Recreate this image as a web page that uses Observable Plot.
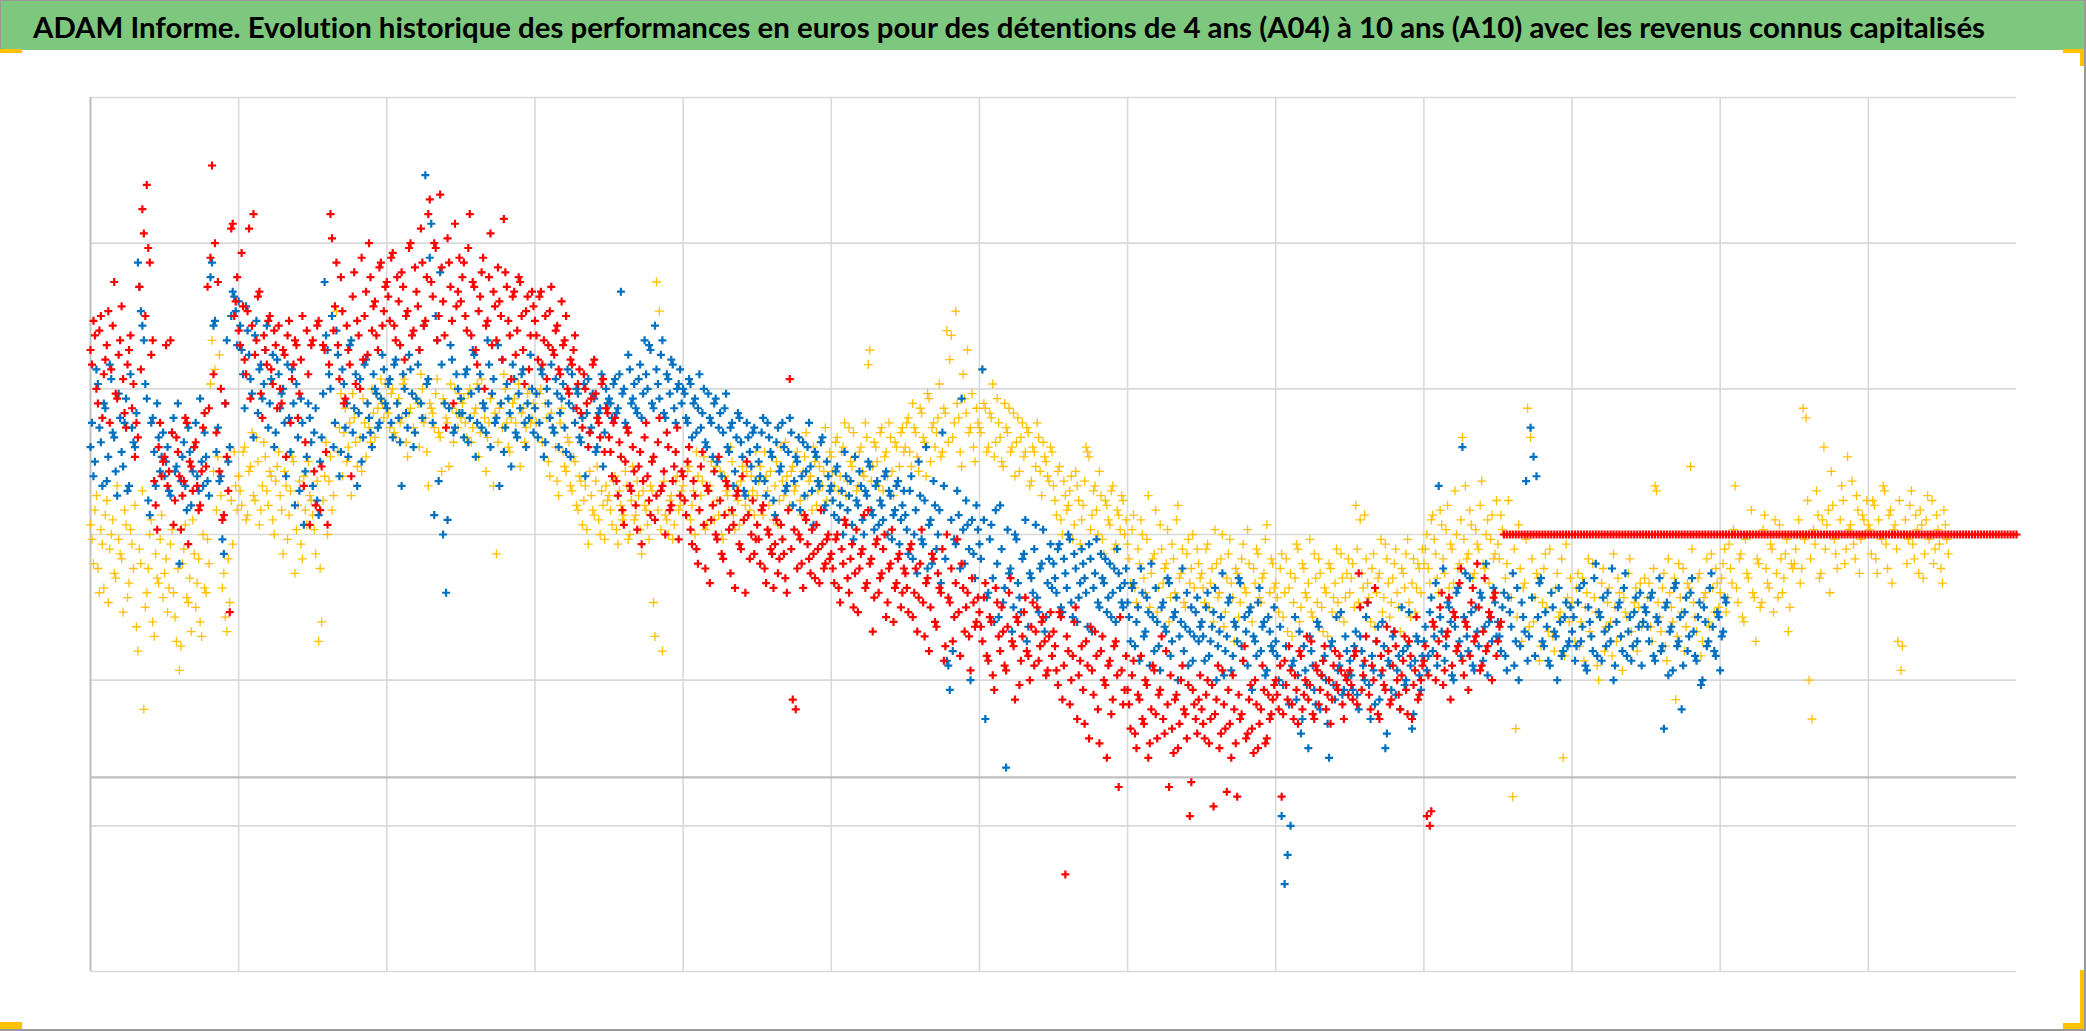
<!DOCTYPE html>
<html>
<head>
<meta charset="utf-8">
<script src="https://cdn.jsdelivr.net/npm/d3@7"></script>
<script src="https://cdn.jsdelivr.net/npm/@observablehq/plot@0.6"></script>
<style>
html, body { margin: 0; padding: 0; background: #fff; }
#page { position: relative; width: 2086px; height: 1031px; overflow: hidden; background: #fff; }
#banner { position: absolute; left: 0; top: 0; width: 2086px; height: 50px; background: #7DC77E; }
#chart { position: absolute; left: 0; top: 50px; }
.handle { position: absolute; background: #FFC000; }
.edge { position: absolute; background: #9a9a9a; }
</style>
</head>
<body>
<div id="page">
  <div id="banner">
    <svg width="2086" height="50">
      <text id="title" x="33" y="37.5" textLength="1952" lengthAdjust="spacingAndGlyphs"
        style="font-variant-ligatures: none;"
        font-family="Lato, 'Open Sans', sans-serif" font-weight="700" font-size="29" fill="#000">ADAM Informe. Evolution historique des performances en euros pour des détentions de 4 ans (A04) à 10 ans (A10) avec les revenus connus capitalisés</text>
    </svg>
  </div>
  <div id="chart"></div>
  <div class="edge" style="left:0;top:0;width:2086px;height:1px;"></div>
  <div class="edge" style="left:0;top:0;width:1px;height:50px;"></div>
  <div class="edge" style="left:2084px;top:0;width:2px;height:1031px;"></div>
  <div class="edge" style="left:0;top:1029px;width:2086px;height:2px;"></div>
  <div class="handle" style="left:0;top:49px;width:22px;height:4px;"></div>
  <div class="handle" style="left:2063px;top:49px;width:21px;height:4px;"></div>
  <div class="handle" style="left:2080px;top:49px;width:4px;height:17px;"></div>
  <div class="handle" style="left:0;top:1022px;width:22px;height:7px;"></div>
  <div class="handle" style="left:2080px;top:970px;width:4px;height:59px;"></div>
  <div class="handle" style="left:2063px;top:1023px;width:21px;height:6px;"></div>
</div>
<script>
// Sampling step of the series along the time axis (grid units: one vertical gridline interval)
const step = 0.02;

// Gridline positions
const xGrid = [1, 2, 3, 4, 5, 6, 7, 8, 9, 10, 11, 12];
const yGrid = [-20, -5, 10, 25, 40, 55, 70];
const xDomain = [0, 13];
const yDomain = [-20, 70];

// A04 (yellow) performance values, samples on the step
const a04 = [
  26,22,29,19,24,27,18,25,21,30,23,17,26,20,24,28,13,22,7,19,25,16,23,20,27,
  21,17,24,19,14,11,22,26,18,15,23,20,16,25,19,22,45,42,33,29,21,15,18,24,30,
  31,28,34,27,32,29,35,26,30,33,28,31,25,32,29,23,30,27,33,21,28,24,31,26,29,
  27,23,14,16,31,25,33,29,48,36,31,38,34,29,37,32,35,39,33,36,40,35,38,41,37,
  38,36,40,35,39,37,41,33,38,36,39,34,40,37,30,38,36,41,35,39,37,32,38,40,36,
  37,39,35,40,36,38,33,41,37,35,39,30,23,38,36,40,34,37,39,35,32,38,36,40,37,
  38,35,40,33,37,31,36,34,29,38,32,35,30,33,28,31,26,30,24,29,27,32,25,28,30,
  29,26,31,24,28,27,30,25,32,27,29,23,28,26,30,18,51,48,13,27,25,29,26,31,28,
  30,27,32,28,25,31,29,33,26,30,28,32,27,25,31,29,34,27,30,26,32,28,29,31,27,
  29,32,27,31,28,33,30,26,34,29,31,28,32,30,35,27,33,29,31,34,28,32,30,36,31,
  33,30,35,31,34,29,36,32,33,30,34,31,35,44,32,34,30,36,33,31,35,29,34,32,36,
  34,37,32,36,33,38,35,31,39,36,34,37,33,38,46,43,35,48,37,32,39,44,36,34,38,
  36,42,38,34,37,33,39,35,32,36,38,34,31,37,35,33,36,30,34,32,35,29,33,31,34,
  30,27,32,25,29,28,31,26,30,24,28,34,33,27,30,25,29,23,28,26,30,24,27,29,25,
  24,20,27,18,22,25,19,29,21,23,17,26,20,22,16,24,19,28,21,18,23,20,25,17,22,
  21,18,24,20,16,22,19,25,17,23,20,14,21,18,24,19,22,16,20,23,18,21,26,19,22,
  20,17,23,19,15,21,18,24,16,22,19,20,17,23,18,21,15,19,22,17,20,18,23,16,21,
  19,22,28,18,21,27,20,16,23,19,21,17,24,20,18,22,19,15,21,23,18,20,17,22,19,
  22,25,20,27,23,19,26,21,28,24,20,25,22,35,30,23,26,21,24,28,22,25,20,27,23,
  24,27,19,22,17,-2,5,26,14,20,38,35,16,21,12,18,23,15,19,13,21,17,2,24,16,
  18,14,21,16,12,19,15,22,17,10,20,13,18,16,23,14,19,11,17,21,15,18,13,20,16,
  17,20,14,30,18,15,21,12,19,16,8,22,17,13,20,32,18,15,21,14,19,16,23,17,20,
  19,22,17,24,20,30,18,23,16,21,25,19,14,22,18,27,20,24,17,21,26,19,23,15,22,
  22,25,20,38,37,10,6,24,27,21,34,26,19,28,23,25,30,22,33,26,24,29,21,27,25,
  26,23,28,21,25,30,24,27,20,26,14,11,25,22,28,24,27,21,26,23,29,25,22,27,24,20,26,23
];
// A04 samples half a step later
const a04b = [
  24.5,27.5,21.5,25.5,19.5,28.5,23.5,26.5,20.5,24.5,22.5,27.5,18.5,25.5,21.5,15.5,23.5,29.5,17.5,21.5,26.5,14.5,20.5,24.5,18.5,
  22.5,19.5,25.5,16.5,21.5,13.5,23.5,18.5,20.5,26.5,17.5,22.5,14.5,19.5,24.5,40.5,31.5,27.5,43.5,19.5,16.5,22.5,28.5,33.5,27.5,
  29.5,33.5,26.5,31.5,35.5,28.5,32.5,27.5,34.5,29.5,31.5,26.5,30.5,33.5,27.5,31.5,24.5,29.5,32.5,25.5,30.5,22.5,27.5,32.5,28.5,
  25.5,30.5,21.5,28.5,34.5,30.5,27.5,36.5,33.5,39.5,35.5,32.5,36.5,39.5,34.5,37.5,31.5,36.5,38.5,34.5,37.5,39.5,36.5,38.5,40.5,
  37.5,39.5,35.5,38.5,36.5,40.5,34.5,37.5,39.5,35.5,38.5,41.5,36.5,33.5,38.5,37.5,39.5,35.5,31.5,38.5,36.5,40.5,34.5,37.5,39.5,
  38.5,36.5,39.5,34.5,37.5,40.5,35.5,38.5,31.5,36.5,39.5,37.5,34.5,38.5,41.5,36.5,33.5,38.5,36.5,40.5,37.5,34.5,39.5,36.5,38.5,
  36.5,39.5,34.5,38.5,32.5,37.5,35.5,30.5,36.5,33.5,31.5,34.5,29.5,32.5,27.5,30.5,28.5,25.5,31.5,27.5,30.5,26.5,29.5,24.5,28.5,
  27.5,30.5,25.5,29.5,26.5,31.5,24.5,28.5,26.5,30.5,25.5,29.5,27.5,24.5,29.5,14.5,27.5,25.5,30.5,26.5,28.5,24.5,30.5,27.5,29.5,
  28.5,31.5,26.5,29.5,33.5,27.5,30.5,25.5,29.5,32.5,26.5,28.5,31.5,24.5,29.5,27.5,32.5,25.5,28.5,30.5,26.5,31.5,27.5,29.5,33.5,
  30.5,27.5,33.5,29.5,31.5,26.5,32.5,28.5,30.5,34.5,27.5,31.5,29.5,33.5,28.5,31.5,35.5,30.5,27.5,32.5,29.5,34.5,31.5,28.5,33.5,
  31.5,34.5,29.5,33.5,36.5,30.5,32.5,35.5,29.5,33.5,31.5,36.5,42.5,30.5,34.5,32.5,35.5,29.5,33.5,36.5,31.5,34.5,30.5,35.5,33.5,
  36.5,33.5,38.5,35.5,31.5,37.5,34.5,39.5,32.5,36.5,35.5,40.5,33.5,37.5,34.5,45.5,36.5,38.5,33.5,41.5,37.5,35.5,39.5,32.5,36.5,
  35.5,38.5,33.5,37.5,40.5,34.5,36.5,32.5,38.5,35.5,33.5,37.5,34.5,31.5,36.5,33.5,35.5,30.5,33.5,36.5,31.5,34.5,32.5,30.5,33.5,
  28.5,31.5,26.5,30.5,27.5,29.5,24.5,31.5,28.5,26.5,30.5,33.5,25.5,29.5,27.5,31.5,24.5,28.5,26.5,29.5,23.5,27.5,25.5,28.5,26.5,
  22.5,25.5,19.5,23.5,26.5,20.5,24.5,17.5,22.5,27.5,19.5,23.5,21.5,25.5,18.5,22.5,26.5,20.5,23.5,17.5,24.5,21.5,19.5,23.5,20.5,
  19.5,23.5,17.5,21.5,25.5,18.5,22.5,15.5,20.5,24.5,18.5,21.5,16.5,22.5,19.5,25.5,17.5,21.5,23.5,18.5,20.5,24.5,16.5,22.5,19.5,
  18.5,21.5,16.5,22.5,19.5,14.5,20.5,23.5,17.5,21.5,18.5,24.5,16.5,20.5,22.5,17.5,19.5,14.5,21.5,18.5,23.5,16.5,20.5,18.5,22.5,
  20.5,17.5,23.5,26.5,19.5,22.5,18.5,21.5,15.5,20.5,24.5,18.5,22.5,16.5,20.5,23.5,17.5,21.5,19.5,24.5,16.5,22.5,19.5,21.5,23.5,
  23.5,21.5,26.5,24.5,20.5,27.5,22.5,25.5,19.5,23.5,29.5,21.5,26.5,24.5,22.5,27.5,20.5,25.5,23.5,30.5,21.5,26.5,24.5,22.5,28.5,
  22.5,25.5,20.5,28.5,18.5,23.5,16.5,21.5,19.5,24.5,15.5,22.5,18.5,20.5,13.5,21.5,17.5,23.5,14.5,19.5,16.5,22.5,12.5,18.5,20.5,
  16.5,19.5,13.5,20.5,17.5,22.5,14.5,18.5,11.5,16.5,21.5,15.5,19.5,12.5,17.5,20.5,14.5,18.5,16.5,22.5,13.5,19.5,17.5,15.5,20.5,
  18.5,15.5,21.5,29.5,16.5,19.5,13.5,22.5,17.5,20.5,14.5,18.5,21.5,15.5,19.5,23.5,16.5,20.5,12.5,18.5,22.5,15.5,19.5,21.5,17.5,
  20.5,23.5,18.5,21.5,25.5,19.5,22.5,16.5,24.5,20.5,27.5,18.5,22.5,17.5,25.5,21.5,19.5,23.5,26.5,18.5,22.5,20.5,24.5,17.5,21.5,
  23.5,26.5,21.5,24.5,28.5,22.5,25.5,29.5,20.5,26.5,23.5,27.5,31.5,24.5,21.5,26.5,28.5,23.5,25.5,30.5,22.5,27.5,24.5,26.5,28.5,
  25.5,28.5,22.5,26.5,24.5,29.5,21.5,27.5,25.5,23.5,28.5,13.5,26.5,24.5,29.5,22.5,25.5,27.5,20.5,26.5,24.5,28.5,23.5,25.5,21.5,27.5,24.5
];

// Intermediate holding period (blue) performance values, samples on the step
const a07 = [
  34,31,42,36,30,38,33,41,35,29,37,32,39,30,36,34,53,48,45,39,27,37,30,35,33,
  31,34,29,37,32,22,33,30,36,28,34,31,39,30,33,29,53,47,36,31,23,45,34,50,48,
  49,44,38,46,41,35,47,42,39,44,36,41,34,43,38,40,31,37,42,28,35,39,26,33,37,
  30,38,27,35,51,44,40,34,46,31,42,36,33,45,38,30,41,35,43,37,34,40,36,39,42,
  38,41,35,43,37,30,40,36,42,34,39,44,37,62,41,57,27,45,52,25,19,38,43,36,40,
  39,35,42,37,44,33,40,36,38,45,34,41,37,30,43,36,39,32,41,35,38,42,34,37,40,
  38,35,42,33,40,37,36,41,34,39,36,42,33,38,40,35,37,31,41,36,39,34,38,32,40,
  39,37,41,38,50,40,36,42,39,38,41,37,45,40,44,38,42,39,45,37,41,43,38,40,42,
  40,37,41,35,39,38,36,40,34,37,33,39,36,31,38,34,36,30,35,37,33,29,35,32,36,
  34,31,37,29,35,33,27,36,32,34,30,37,28,33,35,31,29,34,32,26,33,30,35,28,31,
  30,27,32,28,25,31,29,26,33,28,30,25,29,32,27,30,26,28,31,25,29,27,30,24,28,
  27,23,31,25,21,29,24,34,26,22,28,25,20,30,12,9,13,24,27,39,22,26,10,23,28,
  24,42,6,19,26,16,22,28,18,1,21,15,25,20,17,23,14,21,19,26,17,22,15,20,24,
  22,19,24,17,21,25,18,23,16,20,22,19,24,15,21,18,23,20,17,22,19,16,21,18,20,
  18,14,20,16,12,19,15,17,22,13,16,11,18,15,20,14,17,10,16,13,19,15,12,17,14,
  16,12,19,14,17,10,15,21,13,18,11,16,14,20,12,15,17,9,14,18,13,16,11,15,13,
  14,10,-4,-11,-8,-5,12,8,15,6,11,3,13,9,16,7,12,10,2,14,8,11,17,9,13,
  12,9,15,7,13,10,18,6,11,14,8,16,3,12,9,15,11,7,13,10,17,5,12,14,9,
  14,11,17,13,20,30,15,12,18,16,10,19,14,34,21,13,17,11,15,19,12,22,16,14,18,
  16,13,19,11,17,21,14,10,18,15,12,36,33,31,20,14,17,12,19,15,10,16,13,18,14,
  15,12,18,14,20,11,16,13,22,17,12,15,19,14,10,16,18,13,21,15,12,17,14,19,16,
  17,14,19,12,16,13,5,18,15,11,20,14,7,17,13,19,15,12,18,10,16,14,21,13,17,11,15,18
];
// Blue samples half a step later
const a07b = [
  36.5,32.5,40.5,34.5,38.5,30.5,42.5,35.5,31.5,39.5,33.5,36.5,29.5,41.5,34.5,37.5,50.5,46.5,40.5,28.5,36.5,33.5,38.5,31.5,35.5,
  32.5,29.5,35.5,31.5,38.5,30.5,34.5,27.5,33.5,31.5,36.5,29.5,32.5,35.5,30.5,51.5,46.5,33.5,30.5,24.5,38.5,32.5,47.5,49.5,44.5,
  46.5,41.5,48.5,43.5,39.5,45.5,37.5,42.5,40.5,46.5,38.5,43.5,35.5,41.5,39.5,36.5,42.5,33.5,38.5,40.5,29.5,36.5,31.5,38.5,34.5,
  35.5,28.5,32.5,39.5,45.5,41.5,47.5,36.5,43.5,33.5,40.5,38.5,44.5,35.5,41.5,37.5,32.5,42.5,38.5,35.5,41.5,39.5,36.5,43.5,38.5,
  40.5,36.5,42.5,38.5,34.5,41.5,37.5,43.5,39.5,35.5,42.5,38.5,46.5,40.5,53.5,36.5,47.5,30.5,42.5,38.5,26.5,44.5,35.5,41.5,37.5,
  37.5,41.5,34.5,39.5,43.5,36.5,41.5,38.5,35.5,42.5,39.5,36.5,44.5,38.5,33.5,40.5,37.5,42.5,35.5,39.5,41.5,36.5,38.5,43.5,35.5,
  39.5,36.5,41.5,34.5,38.5,42.5,35.5,39.5,37.5,40.5,33.5,38.5,41.5,36.5,39.5,34.5,40.5,37.5,35.5,39.5,33.5,37.5,41.5,35.5,38.5,
  38.5,40.5,37.5,41.5,39.5,36.5,43.5,38.5,40.5,37.5,42.5,39.5,41.5,44.5,38.5,46.5,40.5,43.5,37.5,41.5,39.5,42.5,36.5,40.5,38.5,
  39.5,36.5,40.5,38.5,35.5,41.5,37.5,34.5,39.5,36.5,38.5,32.5,37.5,35.5,39.5,33.5,36.5,31.5,37.5,34.5,29.5,36.5,33.5,35.5,30.5,
  32.5,35.5,30.5,36.5,33.5,28.5,34.5,31.5,36.5,29.5,33.5,35.5,30.5,32.5,27.5,34.5,31.5,36.5,29.5,33.5,30.5,34.5,27.5,32.5,29.5,
  28.5,31.5,26.5,29.5,33.5,27.5,30.5,24.5,28.5,31.5,26.5,29.5,32.5,27.5,25.5,30.5,28.5,26.5,31.5,29.5,24.5,27.5,30.5,26.5,29.5,
  25.5,29.5,22.5,27.5,32.5,24.5,28.5,21.5,26.5,30.5,23.5,27.5,35.5,22.5,11.5,26.5,24.5,29.5,21.5,25.5,28.5,23.5,26.5,20.5,25.5,
  22.5,26.5,18.5,24.5,20.5,27.5,16.5,23.5,19.5,25.5,21.5,17.5,24.5,18.5,22.5,26.5,15.5,20.5,23.5,18.5,21.5,25.5,16.5,22.5,19.5,
  20.5,23.5,17.5,22.5,19.5,24.5,16.5,21.5,18.5,23.5,20.5,15.5,22.5,19.5,24.5,17.5,20.5,22.5,18.5,16.5,21.5,23.5,19.5,17.5,21.5,
  16.5,19.5,13.5,17.5,21.5,14.5,18.5,11.5,16.5,19.5,13.5,17.5,15.5,20.5,12.5,16.5,18.5,14.5,21.5,15.5,11.5,17.5,14.5,18.5,15.5,
  14.5,17.5,12.5,15.5,19.5,13.5,16.5,10.5,14.5,18.5,12.5,15.5,20.5,13.5,16.5,11.5,17.5,14.5,12.5,19.5,15.5,10.5,16.5,13.5,17.5,
  12.5,15.5,9.5,13.5,7.5,11.5,16.5,10.5,4.5,13.5,9.5,14.5,11.5,7.5,15.5,10.5,12.5,5.5,13.5,9.5,16.5,11.5,8.5,14.5,10.5,
  10.5,13.5,8.5,14.5,11.5,16.5,9.5,12.5,7.5,15.5,10.5,13.5,4.5,11.5,14.5,8.5,12.5,17.5,9.5,13.5,11.5,6.5,14.5,10.5,12.5,
  15.5,12.5,18.5,14.5,11.5,16.5,21.5,13.5,17.5,10.5,15.5,19.5,12.5,16.5,14.5,20.5,11.5,17.5,13.5,18.5,15.5,10.5,16.5,19.5,14.5,
  14.5,17.5,12.5,18.5,15.5,11.5,19.5,13.5,16.5,30.5,14.5,18.5,12.5,16.5,20.5,13.5,15.5,11.5,17.5,14.5,19.5,12.5,16.5,13.5,17.5,
  16.5,13.5,19.5,15.5,11.5,17.5,14.5,20.5,12.5,16.5,18.5,13.5,15.5,21.5,11.5,17.5,14.5,19.5,12.5,16.5,13.5,18.5,15.5,11.5,17.5,
  15.5,18.5,12.5,16.5,20.5,13.5,17.5,10.5,15.5,19.5,13.5,16.5,11.5,18.5,14.5,20.5,12.5,16.5,9.5,17.5,13.5,19.5,15.5,12.5,16.5,14.5,18.5
];

// A10 (red) performance values on the step, then the period where A10 is not yet known
const a10 = [
  44,47,40,46,37,43,48,42,51,39,45,41,36,44,38,33,35,42,56,61,53,45,28,34,31,
  33,30,45,26,35,31,29,37,24,32,34,30,28,36,32,38,63,55,51,40,27,33,17,57,49,
  46,54,43,48,39,58,45,50,37,44,47,42,46,38,40,44,33,47,41,45,37,43,30,46,26,
  45,28,47,32,44,26,58,46,53,41,48,39,44,31,52,47,40,43,50,55,46,49,44,53,48,
  51,47,54,45,49,52,43,48,55,46,50,44,53,47,58,51,55,45,60,49,36,53,47,57,50,
  49,53,46,58,51,44,48,52,40,47,56,50,45,49,43,52,47,41,50,46,51,44,48,42,50,
  47,43,50,45,41,48,44,46,42,49,45,40,43,44,38,42,36,40,34,39,43,37,35,41,38,
  35,31,37,29,33,26,36,30,34,28,32,24,35,31,27,33,29,37,30,25,34,28,32,36,29,
  31,27,34,24,29,22,32,26,30,20,28,25,33,23,27,30,21,26,29,24,31,19,27,25,23,
  26,22,28,20,25,23,24,21,26,23,19,41,8,7,25,22,27,24,21,23,26,20,24,22,25,
  23,20,25,18,22,26,19,24,21,17,23,27,20,22,15,24,19,21,25,18,22,16,20,23,19,
  21,17,24,19,15,22,18,20,13,23,16,21,19,12,25,18,14,20,17,22,15,19,11,18,16,
  17,14,20,12,16,9,18,13,15,11,19,14,8,16,12,17,13,10,18,15,12,16,14,11,17,
  15,11,17,8,-10,13,10,16,6,12,9,14,4,11,15,7,13,10,2,12,8,14,-1,11,9,
  9,5,12,3,8,6,10,2,7,11,4,9,6,13,-1,5,8,3,10,7,4,-4,9,6,8,
  7,4,10,6,-3,8,3,11,5,9,2,7,-2,6,12,4,8,5,10,3,7,9,4,6,8,
  10,7,-2,12,8,11,6,9,13,7,10,8,14,6,11,9,12,7,10,8,13,9,11,6,10,
  11,8,13,21,9,12,18,7,10,14,6,11,9,13,8,15,10,7,12,9,14,6,11,8,10,
  12,-4,-5,16,10,14,19,11,15,8,17,13,20,12,16,9,18,14,22,11,15,13,17,10,19,14,16,
  25,25,25,25,25,25,25,25,25,25, 25,25,25,25,25,25,25,25,25,25,
  25,25,25,25,25,25,25,25,25,25, 25,25,25,25,25,25,25,25,25,25,
  25,25,25,25,25,25,25,25,25,25, 25,25,25,25,25,25,25,25,25,25,
  25,25,25,25,25,25,25,25,25,25, 25,25,25,25,25,25,25,25,25,25,
  25,25,25,25,25,25,25,25,25,25, 25,25,25,25,25,25,25,25,25,25,
  25,25,25,25,25,25,25,25,25,25, 25,25,25,25,25,25,25,25,25,25,
  25,25,25,25,25,25,25,25,25,25, 25,25,25,25,25,25,25,25,25,25,
  25,25,25,25,25,25,25,25,25,25, 25,25,25,25,25,25,25,25,25,25,
  25,25,25,25,25,25,25,25,25,25, 25,25,25,25
];
// A10 samples half a step later (known period only)
const a10b = [
  42.5,45.5,38.5,47.5,41.5,44.5,36.5,46.5,39.5,43.5,48.5,37.5,42.5,45.5,40.5,36.5,50.5,58.5,47.5,54.5,43.5,30.5,25.5,36.5,32.5,
  44.5,31.5,35.5,28.5,33.5,25.5,30.5,36.5,32.5,29.5,34.5,27.5,31.5,37.5,50.5,53.5,41.5,35.5,31.5,26.5,38.5,29.5,56.5,47.5,51.5,
  44.5,48.5,41.5,56.5,46.5,43.5,49.5,39.5,45.5,42.5,47.5,40.5,44.5,46.5,38.5,43.5,45.5,36.5,42.5,44.5,39.5,47.5,34.5,41.5,44.5,
  31.5,46.5,27.5,44.5,33.5,42.5,55.5,48.5,44.5,51.5,38.5,46.5,42.5,49.5,40.5,45.5,53.5,47.5,43.5,51.5,48.5,45.5,52.5,46.5,50.5,
  49.5,53.5,46.5,51.5,44.5,50.5,47.5,54.5,45.5,52.5,48.5,56.5,46.5,51.5,59.5,49.5,54.5,47.5,52.5,45.5,55.5,50.5,38.5,48.5,53.5,
  51.5,47.5,54.5,45.5,50.5,42.5,49.5,53.5,46.5,51.5,44.5,48.5,52.5,47.5,57.5,50.5,45.5,49.5,43.5,51.5,47.5,40.5,49.5,45.5,48.5,
  45.5,49.5,42.5,47.5,44.5,50.5,43.5,46.5,41.5,44.5,47.5,39.5,42.5,45.5,40.5,37.5,41.5,38.5,35.5,42.5,39.5,36.5,40.5,33.5,37.5,
  33.5,36.5,30.5,34.5,27.5,32.5,35.5,29.5,31.5,25.5,33.5,30.5,36.5,28.5,32.5,26.5,34.5,29.5,31.5,35.5,27.5,30.5,33.5,24.5,31.5,
  28.5,32.5,25.5,30.5,23.5,27.5,33.5,21.5,29.5,26.5,31.5,24.5,28.5,22.5,30.5,25.5,27.5,19.5,29.5,23.5,26.5,32.5,22.5,28.5,24.5,
  24.5,27.5,21.5,25.5,23.5,19.5,26.5,22.5,24.5,20.5,27.5,23.5,25.5,21.5,24.5,19.5,26.5,22.5,25.5,20.5,23.5,27.5,21.5,24.5,22.5,
  21.5,24.5,19.5,23.5,26.5,20.5,22.5,17.5,25.5,21.5,23.5,19.5,27.5,22.5,18.5,24.5,20.5,23.5,16.5,21.5,25.5,19.5,22.5,17.5,21.5,
  19.5,23.5,16.5,21.5,18.5,25.5,14.5,20.5,17.5,22.5,15.5,19.5,23.5,13.5,18.5,21.5,16.5,24.5,12.5,19.5,17.5,14.5,20.5,15.5,18.5,
  15.5,18.5,12.5,16.5,10.5,19.5,14.5,17.5,11.5,15.5,20.5,13.5,16.5,9.5,14.5,18.5,12.5,15.5,11.5,17.5,13.5,16.5,10.5,14.5,12.5,
  13.5,9.5,16.5,11.5,14.5,7.5,12.5,17.5,10.5,13.5,5.5,11.5,15.5,8.5,12.5,3.5,14.5,9.5,11.5,6.5,13.5,10.5,16.5,7.5,12.5,
  7.5,10.5,4.5,8.5,12.5,5.5,9.5,3.5,11.5,6.5,8.5,14.5,4.5,7.5,10.5,2.5,8.5,5.5,11.5,6.5,9.5,-0.5,7.5,4.5,10.5,
  5.5,8.5,3.5,9.5,6.5,11.5,4.5,7.5,-1.5,5.5,10.5,3.5,8.5,6.5,13.5,4.5,9.5,2.5,7.5,5.5,11.5,3.5,8.5,6.5,9.5,
  8.5,11.5,6.5,9.5,13.5,7.5,10.5,5.5,12.5,8.5,14.5,9.5,6.5,11.5,7.5,10.5,13.5,8.5,5.5,11.5,9.5,12.5,7.5,10.5,8.5,
  9.5,12.5,7.5,17.5,10.5,14.5,8.5,11.5,19.5,6.5,12.5,9.5,15.5,7.5,11.5,13.5,8.5,10.5,14.5,6.5,12.5,9.5,16.5,8.5,11.5,
  13.5,10.5,-3.5,15.5,12.5,17.5,9.5,14.5,18.5,11.5,16.5,13.5,21.5,10.5,15.5,12.5,19.5,14.5,17.5,11.5,20.5,13.5,16.5,18.5,12.5,15.5
];

const colors = { A04: "#FFC000", A07: "#0070C0", A10: "#FF0000" };

function rows(vals, name, offset) {
  return vals.map((v, i) => ({ t: (i + offset) * step, perf: v, serie: name }));
}

// "+" marker whose half-width equals the dot radius
const plus = {
  draw(ctx, size) {
    const r = Math.sqrt(size / Math.PI);
    ctx.moveTo(-r, 0); ctx.lineTo(r, 0);
    ctx.moveTo(0, -r); ctx.lineTo(0, r);
  }
};

const yellowRows = rows(a04, "A04", 0).concat(rows(a04b, "A04", 0.5));
const blueRows = rows(a07, "A07", 0).concat(rows(a07b, "A07", 0.5));
const redRows = rows(a10, "A10", 0).concat(rows(a10b, "A10", 0.5));

const chart = Plot.plot({
  width: 2086,
  height: 981,
  marginTop: 47,
  marginBottom: 60,
  marginLeft: 90,
  marginRight: 70,
  style: { background: "#fff", overflow: "visible" },
  x: { domain: xDomain, axis: null },
  y: { domain: yDomain, axis: null },
  marks: [
    Plot.ruleY(yGrid, { stroke: "#d9d9d9", strokeWidth: 1.6 }),
    Plot.ruleX(xGrid, { stroke: "#d9d9d9", strokeWidth: 1.6 }),
    Plot.ruleX([xDomain[0]], { stroke: "#bfbfbf", strokeWidth: 2 }),
    Plot.ruleY([0], { stroke: "#bfbfbf", strokeWidth: 2.2 }),
    Plot.dot(yellowRows, { x: "t", y: "perf", symbol: plus, r: 4.5, stroke: colors.A04, strokeWidth: 1.3, fill: "none" }),
    Plot.dot(blueRows, { x: "t", y: "perf", symbol: plus, r: 4, stroke: colors.A07, strokeWidth: 2.2, fill: "none" }),
    Plot.dot(redRows, { x: "t", y: "perf", symbol: plus, r: 4, stroke: colors.A10, strokeWidth: 2.2, fill: "none" })
  ]
});
document.getElementById("chart").appendChild(chart);
</script>
</body>
</html>
